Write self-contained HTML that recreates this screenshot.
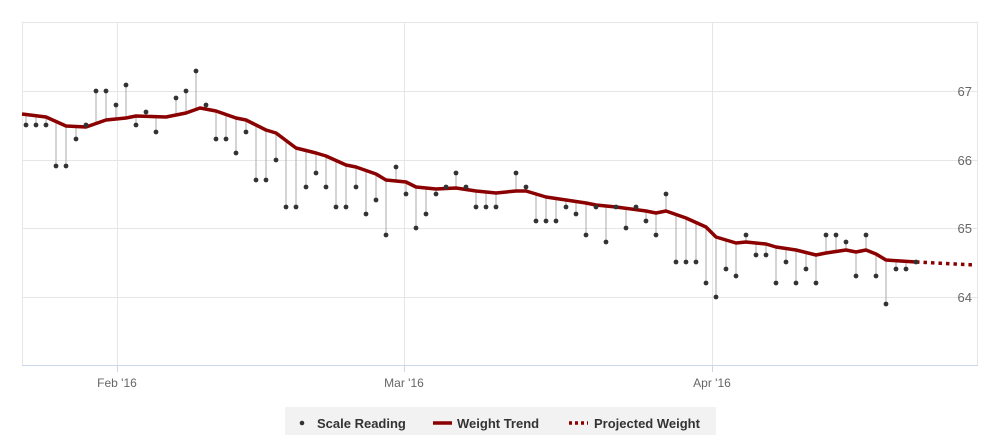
<!DOCTYPE html>
<html><head><meta charset="utf-8"><style>
body{margin:0;background:#fff;}
svg{display:block;font-family:"Liberation Sans",sans-serif;}
</style></head><body>
<svg id="s" width="999" height="435" viewBox="0 0 999 435">
<rect x="0" y="0" width="999" height="435" fill="#fff"/>
<g stroke="#e6e6e6" stroke-width="1">
<line x1="22" y1="91.5" x2="978" y2="91.5"/>
<line x1="22" y1="160.5" x2="978" y2="160.5"/>
<line x1="22" y1="228.5" x2="978" y2="228.5"/>
<line x1="22" y1="297.5" x2="978" y2="297.5"/>
<line x1="22" y1="22.5" x2="978" y2="22.5"/>
<line x1="117.5" y1="22" x2="117.5" y2="365"/>
<line x1="404.5" y1="22" x2="404.5" y2="365"/>
<line x1="712.5" y1="22" x2="712.5" y2="365"/>
<line x1="22.5" y1="22" x2="22.5" y2="365"/>
<line x1="977.5" y1="22" x2="977.5" y2="365"/>
</g>
<line x1="22" y1="365.5" x2="978" y2="365.5" stroke="#ccd6eb"/>
<g stroke="#ccd6eb"><line x1="117.5" y1="365" x2="117.5" y2="372"/><line x1="404.5" y1="365" x2="404.5" y2="372"/><line x1="712.5" y1="365" x2="712.5" y2="372"/></g>
<g fill="#666" font-size="12" text-anchor="middle">
<text x="117" y="387">Feb '16</text><text x="404" y="387">Mar '16</text><text x="712" y="387">Apr '16</text>
</g>
<g fill="#666" font-size="13" text-anchor="end">
<text x="972" y="96">67</text><text x="972" y="165">66</text><text x="972" y="233">65</text><text x="972" y="302">64</text>
</g>
<g id="stems" stroke="#aaa" stroke-width="1"></g>
<polyline id="trend" fill="none" stroke="#8b0000" stroke-width="3.5" stroke-linejoin="round"/>
<polyline points="916,262 975,265" fill="none" stroke="#8b0000" stroke-width="3.5" stroke-dasharray="3.5,4"/>
<g id="pts" fill="#333"></g>
<rect x="285" y="407" width="431" height="30" fill="#f2f2f2"/>
<circle cx="302" cy="423" r="2.3" fill="#333"/>
<g fill="#333" font-size="13" font-weight="bold">
<text x="317" y="428">Scale Reading</text>
<text x="457" y="428">Weight Trend</text>
<text x="594" y="428">Projected Weight</text>
</g>
<line x1="433" y1="423" x2="452" y2="423" stroke="#8b0000" stroke-width="3.5"/>
<line x1="569" y1="423" x2="588" y2="423" stroke="#8b0000" stroke-width="3.5" stroke-dasharray="3,3"/>
</svg>
<script>
var T=[[22,114],[46,117],[66,126],[86,127],[106,120],[126,118],[136,116],[166,117],[186,113],[200,108],[216,111],[236,118],[246,120],[266,130],[276,133],[296,148],[316,153],[326,156],[346,165],[356,167],[376,174],[386,180],[396,181],[406,182],[416,187],[436,189],[456,188],[476,191],[496,193],[516,191],[526,191],[546,197],[566,200],[586,203],[596,205],[616,207],[646,211],[656,213],[666,211],[686,218],[706,227],[716,237],[736,243],[746,242],[766,244],[776,247],[796,250],[816,255],[826,253],[846,250],[856,252],[866,250],[876,254],[886,260],[916,262]];
function ty(x){for(var i=0;i<T.length-1;i++){if(x>=T[i][0]&&x<=T[i+1][0]){var t=(x-T[i][0])/(T[i+1][0]-T[i][0]);return T[i][1]+t*(T[i+1][1]-T[i][1]);}}return T[T.length-1][1];}
var P=[[26,125],[36,125],[46,125],[56,166],[66,166],[76,139],[86,125],[96,91],[106,91],[116,105],[126,85],[136,125],[146,112],[156,132],[176,98],[186,91],[196,71],[206,105],[216,139],[226,139],[236,153],[246,132],[256,180],[266,180],[276,160],[286,207],[296,207],[306,187],[316,173],[326,187],[336,207],[346,207],[356,187],[366,214],[376,200],[386,235],[396,167],[406,194],[416,228],[426,214],[436,194],[446,187],[456,173],[466,187],[476,207],[486,207],[496,207],[516,173],[526,187],[536,221],[546,221],[556,221],[566,207],[576,214],[586,235],[596,207],[606,242],[616,207],[626,228],[636,207],[646,221],[656,235],[666,194],[676,262],[686,262],[696,262],[706,283],[716,297],[726,269],[736,276],[746,235],[756,255],[766,255],[776,283],[786,262],[796,283],[806,269],[816,283],[826,235],[836,235],[846,242],[856,276],[866,235],[876,276],[886,304],[896,269],[906,269],[916,262]];
var ns="http://www.w3.org/2000/svg",st=document.getElementById("stems"),pg=document.getElementById("pts");
P.forEach(function(p){var l=document.createElementNS(ns,"line");l.setAttribute("x1",p[0]);l.setAttribute("x2",p[0]);l.setAttribute("y1",p[1]);l.setAttribute("y2",ty(p[0]));st.appendChild(l);
var c=document.createElementNS(ns,"circle");c.setAttribute("cx",p[0]);c.setAttribute("cy",p[1]);c.setAttribute("r",2.4);pg.appendChild(c);});
document.getElementById("trend").setAttribute("points",T.map(function(p){return p.join(",")}).join(" "));
</script>
</body></html>
